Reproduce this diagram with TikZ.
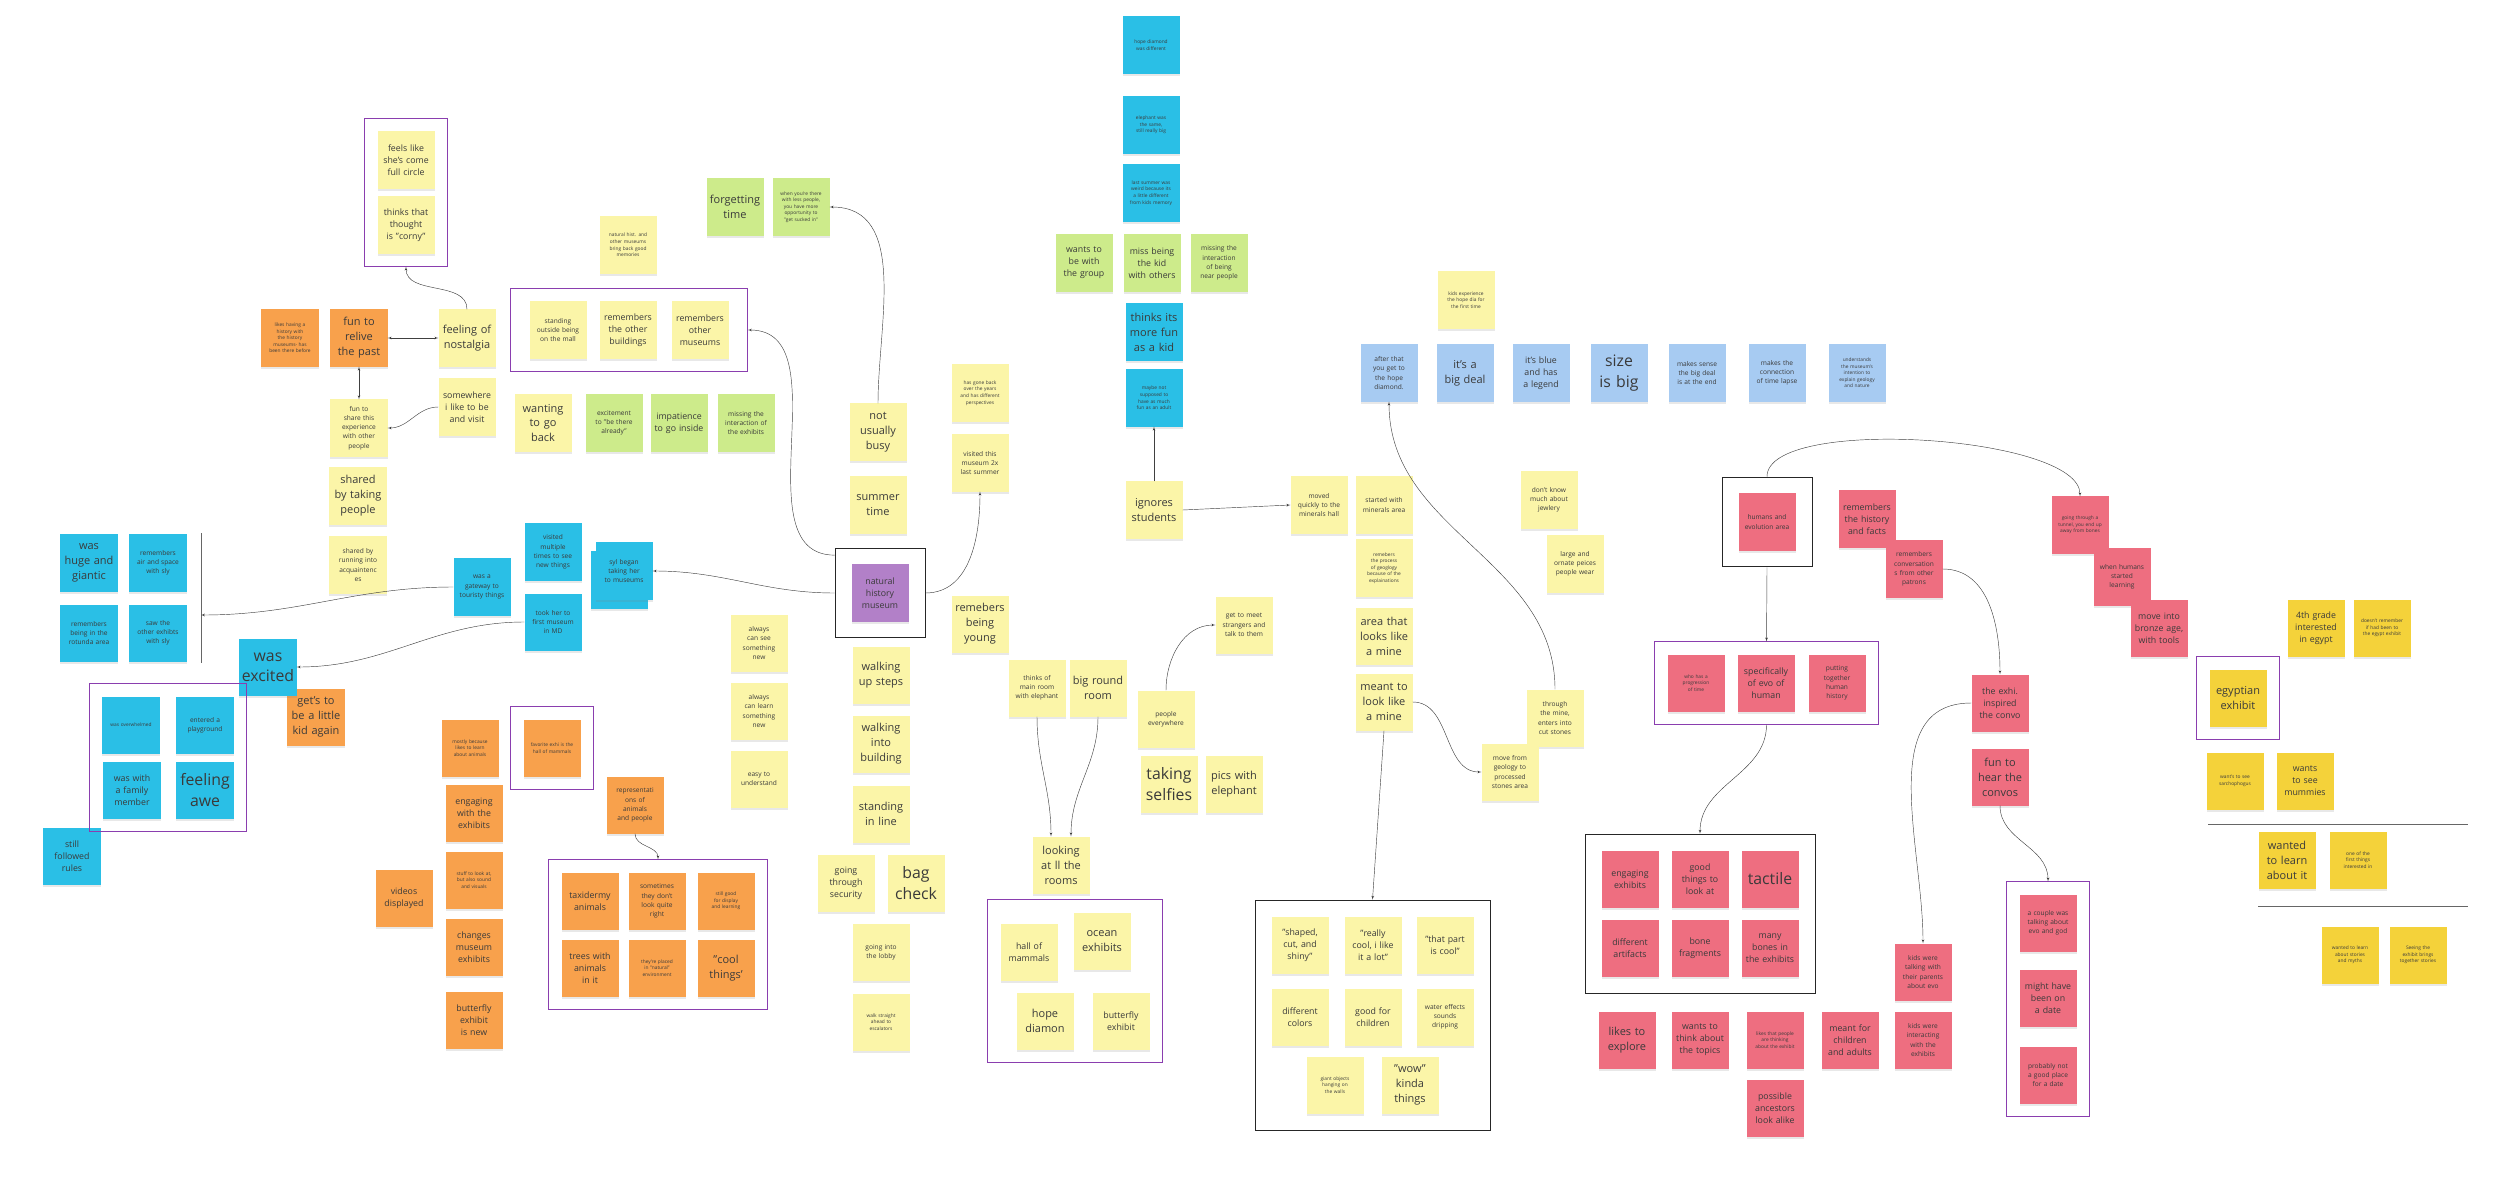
\documentclass[tikz,border=0pt]{standalone}
\usepackage{fontspec}
\setmainfont{Open Sans}
\usetikzlibrary{arrows,fit,shadows}
\definecolor{stYellow}{HTML}{FBF5A8}
\definecolor{stGreen}{HTML}{CDEB8B}
\definecolor{stCyan}{HTML}{2ABFE6}
\definecolor{stOrange}{HTML}{F8A14C}
\definecolor{stPurple}{HTML}{B280C8}
\definecolor{stLight}{HTML}{A7CBF2}
\definecolor{stPink}{HTML}{EE6E80}
\definecolor{stGold}{HTML}{F4D23A}
\definecolor{framePurple}{HTML}{8A3EAF}
\definecolor{inkgray}{HTML}{3A3A3A}
\tikzset{
    note/.style={minimum width=2.28cm,minimum height=2.28cm,text width=2.1cm,align=center,inner sep=0pt,text=inkgray,
        execute at begin node={\hyphenpenalty=10000},
        drop shadow={shadow xshift=0pt,shadow yshift=-3pt,opacity=.18}},
    yel/.style={note,fill=stYellow},
    grn/.style={note,fill=stGreen},
    cyn/.style={note,fill=stCyan},
    org/.style={note,fill=stOrange},
    prp/.style={note,fill=stPurple},
    lbl/.style={note,fill=stLight},
    pnk/.style={note,fill=stPink},
    gld/.style={note,fill=stGold},
    xs/.style={font=\fontsize{5.5}{7.5}\selectfont,text width=1.75cm},
    sm/.style={font=\fontsize{7.5}{10.5}\selectfont,text width=1.8cm},
    md/.style={font=\fontsize{10}{13.5}\selectfont,text width=1.95cm},
    lg/.style={font=\fontsize{12.5}{17}\selectfont},
    xl/.style={font=\fontsize{18}{23}\selectfont},
    pframe/.style={draw=framePurple,line width=1pt,inner sep=0.5cm},
    bframe/.style={draw=black!85,line width=1pt,inner sep=0.65cm},
    edge/.style={->,>=latex',draw=black!75,line width=.5pt}
}

\begin{document}
\begin{tikzpicture}[x=0.04cm,y=-0.04cm]
\useasboundingbox (0,0) rectangle (2500,1204);

% nostalgia
\node[yel,md] (fcircle) at (406,160) {feels like she's come full circle};
\node[yel,md] (corny) at (406,225) {thinks that thought is "corny"};
\node[org,xs] (likehist) at (290,338) {likes having a history with the history museums- has been there before};
\node[org,lg] (relive) at (359,338) {fun to relive the past};
\node[yel,lg] (nost) at (467,338) {feeling of nostalgia};
\node[yel,md] (somewhere) at (467,407) {somewhere i like to be and visit};
\node[yel,sm] (share) at (359,428) {fun to share this experience with other people};
\node[yel,lg] (taking) at (358,496) {shared by taking people};
\node[yel,sm] (running) at (358,565) {shared by running into acquaintenc\\es};

% sly
\node[cyn,lg] (huge) at (89,563) {was huge and giantic};
\node[cyn,sm] (airspace) at (158,563) {remembers air and space with sly};
\node[cyn,sm] (rotunda) at (89,633) {remembers being in the rotunda area};
\node[cyn,sm] (sawother) at (158,633) {saw the other exhibts with sly};
\node[cyn,sm] (gate) at (482,587) {was a gateway to touristy things};
\node[cyn,sm] (visitmult) at (553,552) {visited multiple times to see new things};
\node[cyn] (sylback) at (619,580) {};
\node[cyn,sm] (syl) at (624,571) {syl began taking her to museums};
\node[cyn,sm] (firstmus) at (553,622) {took her to first museum in MD};
\node[org,lg] (kidagain) at (316,717) {get's to be a little kid again};
\node[cyn,xl] (excited) at (268,667) {was excited};
\node[cyn,xs] (overwh) at (131,725) {was overwhelmed};
\node[cyn,sm] (playgr) at (205,725) {entered a playground};
\node[cyn,md] (family) at (132,790) {was with a family member};
\node[cyn,xl] (awe) at (205,790) {feeling awe};
\node[cyn,md] (rules) at (72,856) {still followed rules};

% memories and time
\node[yel,xs] (natmem) at (628,245) {natural hist. and other museums bring back good memories};
\node[yel,sm] (standing) at (558,330) {standing outside being on the mall};
\node[yel,md] (rembuild) at (628,330) {remembers the other buildings};
\node[yel,md] (remmus) at (700,330) {remembers other museums};
\node[grn,lg] (forget) at (735,207) {forgetting time};
\node[grn,xs] (whenless) at (801,207) {when you're there with less people, you have more opportunity to "get sucked in"};
\node[yel,lg] (wanting) at (543,423) {wanting to go back};
\node[grn,sm] (excite) at (614,423) {excitement to "be there already"};
\node[grn,md] (impat) at (679,423) {impatience to go inside};
\node[grn,sm] (missexh) at (746,423) {missing the interaction of the exhibits};
\node[yel,lg] (busy) at (878,432) {not usually busy};
\node[yel,lg] (summer) at (878,505) {summer time};
\node[yel,xs] (goneback) at (980,393) {has gone back over the years and has different perspectives};
\node[yel,sm] (visited) at (980,463) {visited this museum 2x last summer};

% visit
\node[prp,md] (nhm) at (880,593) {natural history museum};
\node[yel,sm] (always1) at (759,643) {always can see something new};
\node[yel,sm] (always2) at (759,711) {always can learn something new};
\node[yel,sm] (easy) at (759,779) {easy to understand};
\node[yel,lg] (steps) at (881,675) {walking up steps};
\node[yel,lg] (building) at (881,744) {walking into building};
\node[yel,lg] (inline) at (881,814) {standing in line};
\node[yel,md] (security) at (846,883) {going through security};
\node[yel,xl] (bagcheck) at (916,883) {bag check};
\node[yel,sm] (lobby) at (881,952) {going into the lobby};
\node[yel,xs] (escal) at (881,1022) {walk straight ahead to escalators};
\node[yel,lg] (young) at (980,624) {remebers being young};
\node[yel,sm] (mainroom) at (1037,688) {thinks of main room with elephant};
\node[yel,lg] (roundrm) at (1098,688) {big round room};
\node[yel,lg] (lookall) at (1061,865) {looking at ll the rooms};
\node[yel,md] (hall) at (1029,952) {hall of mammals};
\node[yel,lg] (ocean) at (1102,941) {ocean exhibits};
\node[yel,lg] (hopediam) at (1045,1021) {hope diamon};
\node[yel,md] (butterfly) at (1121,1021) {butterfly exhibit};
\node[yel,sm] (people) at (1166,719) {people everywhere};
\node[yel,xl] (selfies) at (1169,784) {taking selfies};
\node[yel,lg] (pics) at (1234,784) {pics with elephant};
\node[yel,sm] (meet) at (1244,625) {get to meet strangers and talk to them};

% being a kid
\node[cyn,xs] (hopediff) at (1151,45) {hope diamond was different};
\node[cyn,xs] (elephant) at (1151,125) {elephant was the same, still really big};
\node[cyn,xs] (lastsum) at (1151,193) {last summer was weird because its a little different from kids memory};
\node[grn,md] (groupw) at (1084,263) {wants to be with the group};
\node[grn,md] (misskid) at (1152,263) {miss being the kid with others};
\node[grn,sm] (missnear) at (1219,263) {missing the interaction of being near people};
\node[cyn,lg] (funkid) at (1154,332) {thinks its more fun as a kid};
\node[cyn,xs] (adult) at (1154,398) {maybe not supposed to have as much fun as an adult};
\node[yel,lg] (ignores) at (1154,510) {ignores students};

% minerals
\node[yel,sm] (moved) at (1319,505) {moved quickly to the minerals hall};
\node[yel,sm] (startmin) at (1384,505) {started with minerals area};
\node[yel,xs] (process) at (1384,568) {remebers the process of geoglogy because of the explainations};
\node[yel,lg] (minearea) at (1384,636) {area that looks like a mine};
\node[yel,lg] (meant) at (1384,702) {meant to look like a mine};
\node[yel,sm] (throughmine) at (1555,718) {through the mine, enters into cut stones};
\node[yel,sm] (movefrom) at (1510,772) {move from geology to processed stones area};
\node[yel,md] (shaped) at (1300,945) {"shaped, cut, and shiny"};
\node[yel,md] (really) at (1373,945) {"really cool, i like it a lot"};
\node[yel,md] (thatpart) at (1445,945) {"that part is cool"};
\node[yel,md] (colors) at (1300,1017) {different colors};
\node[yel,md] (children) at (1373,1017) {good for children};
\node[yel,sm] (water) at (1445,1017) {water effects sounds dripping};
\node[yel,xs] (giant) at (1335,1085) {giant objects hanging on the walls};
\node[yel,lg] (wow) at (1410,1085) {"wow" kinda things};

% hope diamond
\node[yel,xs] (kidsexp) at (1466,300) {kids experience the hope dia for the first time};
\node[lbl,sm] (after) at (1389,373) {after that you get to the hope diamond.};
\node[lbl,lg] (bigdeal) at (1465,373) {it's a big deal};
\node[lbl,md] (legend) at (1541,373) {it's blue and has a legend};
\node[lbl,xl] (sizebig) at (1619,373) {size is big};
\node[lbl,sm] (sense) at (1697,373) {makes sense the big deal is at the end};
\node[lbl,sm] (timelapse) at (1777,373) {makes the connection of time lapse};
\node[lbl,xs] (intention) at (1857,373) {understands the museum's intention to explain geology and nature};
\node[yel,sm] (jewlery) at (1549,500) {don't know much about jewlery};
\node[yel,sm] (ornate) at (1575,564) {large and ornate peices people wear};

% human evolution
\node[pnk,sm] (humans) at (1767,522) {humans and evolution area};
\node[pnk,md] (histfacts) at (1867,519) {remembers the history and facts};
\node[pnk,sm] (conv) at (1914,569) {remembers conversation\\s from other patrons};
\node[pnk,xs] (tunnel) at (2080,525) {going through a tunnel, you end up away from bones};
\node[pnk,sm] (learning) at (2122,577) {when humans started learning};
\node[pnk,md] (bronze) at (2159,628) {move into bronze age, with tools};
\node[pnk,xs] (progtime) at (1696,683) {who has a progression of time};
\node[pnk,md] (specevo) at (1766,683) {specifically of evo of human};
\node[pnk,sm] (puthist) at (1837,683) {putting together human history};
\node[pnk,md] (engaging) at (1630,879) {engaging exhibits};
\node[pnk,md] (goodlook) at (1700,879) {good things to look at};
\node[pnk,xl] (tactile) at (1770,879) {tactile};
\node[pnk,md] (artifacts) at (1630,948) {different artifacts};
\node[pnk,md] (bonefrag) at (1700,948) {bone fragments};
\node[pnk,md] (manybones) at (1770,948) {many bones in the exhibits};
\node[pnk,lg] (explore) at (1627,1040) {likes to explore};
\node[pnk,md] (topics) at (1700,1040) {wants to think about the topics};
\node[pnk,xs] (likespeople) at (1775,1040) {likes that people are thinking about the exhibit};
\node[pnk,md] (meantkids) at (1850,1040) {meant for children and adults};
\node[pnk,sm] (interact) at (1923,1040) {kids were interacting with the exhibits};
\node[pnk,md] (ancestors) at (1775,1108) {possible ancestors look alike};
\node[pnk,sm] (kidstalk) at (1923,972) {kids were talking with their parents about evo};
\node[pnk,md] (inspired) at (2000,703) {the exhi. inspired the convo};
\node[pnk,lg] (funhear) at (2000,777) {fun to hear the convos};
\node[pnk,sm] (couple) at (2048,923) {a couple was talking about evo and god};
\node[pnk,md] (date) at (2048,998) {might have been on a date};
\node[pnk,sm] (notgood) at (2048,1075) {probably not a good place for a date};

% egypt
\node[gld,md] (grade4) at (2316,628) {4th grade interested in egypt};
\node[gld,xs] (dontrem) at (2382,628) {doesn't remember if had been to the egypt exhibit};
\node[gld,lg] (egypt) at (2238,698) {egyptian exhibit};
\node[gld,xs] (sarco) at (2235,781) {want's to see sarchophogus};
\node[gld,md] (mummies) at (2305,781) {wants to see mummies};
\node[gld,lg] (learnit) at (2287,860) {wanted to learn about it};
\node[gld,xs] (firstint) at (2358,860) {one of the first things interested in};
\node[gld,xs] (myths) at (2350,955) {wanted to learn about stories and myths};
\node[gld,xs] (seeing) at (2418,955) {Seeing the exhibit brings together stories};

% animals
\node[org,xs] (mostly) at (470,748) {mostly because likes to learn about animals};
\node[org,xs] (favorite) at (552,748) {favorite exhi is the hall of mammals};
\node[org,md] (engage) at (474,813) {engaging with the exhibits};
\node[org,xs] (stuff) at (474,880) {stuff to look at, but also sound and visuals};
\node[org,md] (changes) at (474,947) {changes museum exhibits};
\node[org,md] (butnew) at (474,1020) {butterfly exhibit is new};
\node[org,md] (videos) at (404,898) {videos displayed};
\node[org,sm] (repr) at (635,805) {representati\\ons of animals and people};
\node[org,md] (taxi) at (590,901) {taxidermy animals};
\node[org,sm] (sometimes) at (657,901) {sometimes they don't look quite right};
\node[org,xs] (stillgood) at (726,901) {still good for display and learning};
\node[org,md] (trees) at (590,968) {trees with animals in it};
\node[org,xs] (placed) at (657,968) {they're placed in "natural" environment};
\node[org,lg] (cool) at (726,968) {"cool things'};

% frames
\node[pframe,fit=(fcircle)(corny)] (frCircle) {};
\node[pframe,inner xsep=0.75cm,fit=(standing)(remmus)] (frRem) {};
\node[pframe,fit=(overwh)(awe)] (frExcited) {};
\node[pframe,fit=(favorite)] (frMammals) {};
\node[pframe,fit=(taxi)(cool)] (frTaxi) {};
\node[pframe,fit=(hall)(ocean)(hopediam)(butterfly)] (frRooms) {};
\node[bframe,fit=(nhm)] (nhmbox) {};
\node[bframe,fit=(shaped)(thatpart)(giant)(wow)] (frMine) {};
\node[bframe,fit=(humans)] (frHuman) {};
\node[pframe,fit=(progtime)(puthist)] (frProg) {};
\node[bframe,fit=(engaging)(manybones)] (frTact) {};
\node[pframe,fit=(couple)(notgood)] (frDate) {};
\node[pframe,fit=(egypt)] (frEgypt) {};

% dividers
\coordinate (bar) at (201,615);
\draw[black!60,line width=.8pt] (201,533) -- (201,663);
\draw[black!60,line width=.8pt] (2208,824) -- (2468,824);
\draw[black!60,line width=.8pt] (2258,906) -- (2468,906);

% connectors
\draw[edge] (nost.north) to[out=90,in=-90] (frCircle.south);
\draw[edge,<->] (relive.east) -- (nost.west);
\draw[edge,<->] (relive.south) -- (share.north);
\draw[edge] (somewhere.west) to[out=180,in=0] (share.east);
\draw[edge] (gate.west) to[out=180,in=0] (bar);
\draw[edge] (firstmus.west) to[out=180,in=0] (excited.east);
\draw[edge] (nhmbox.west) to[out=180,in=0] (syl.east);
\draw[edge] ([yshift=-0.3cm]nhmbox.north west) to[out=180,in=0] (frRem.east);
\draw[edge] (busy.north) to[out=90,in=0] (whenless.east);
\draw[edge] (nhmbox.east) to[out=0,in=-90] (visited.south);
\draw[edge] (mainroom.south) to[out=-90,in=90] ([xshift=-0.4cm]lookall.north);
\draw[edge] (roundrm.south) to[out=-90,in=90] ([xshift=0.4cm]lookall.north);
\draw[edge] (people.north) to[out=90,in=180] (meet.west);
\draw[edge] (ignores.north) -- (adult.south);
\draw[edge] (ignores.east) -- (moved.west);
\draw[edge] (meant.east) to[out=0,in=180] (movefrom.west);
\draw[edge] (meant.south) -- (frMine.north);
\draw[edge] (throughmine.north) to[out=90,in=-90] (after.south);
\draw[edge] (frHuman.north) to[out=90,in=90,looseness=0.5] (tunnel.north);
\draw[edge] (frHuman.south) -- (frProg.north);
\draw[edge] (frProg.south) to[out=-90,in=90] (frTact.north);
\draw[edge] (conv.east) to[out=0,in=90] (inspired.north);
\draw[edge] (inspired.west) to[out=180,in=90] (kidstalk.north);
\draw[edge] (funhear.south) to[out=-90,in=90] (frDate.north);
\draw[edge] (repr.south) to[out=-90,in=90] (frTaxi.north);

\end{tikzpicture}
\end{document}
